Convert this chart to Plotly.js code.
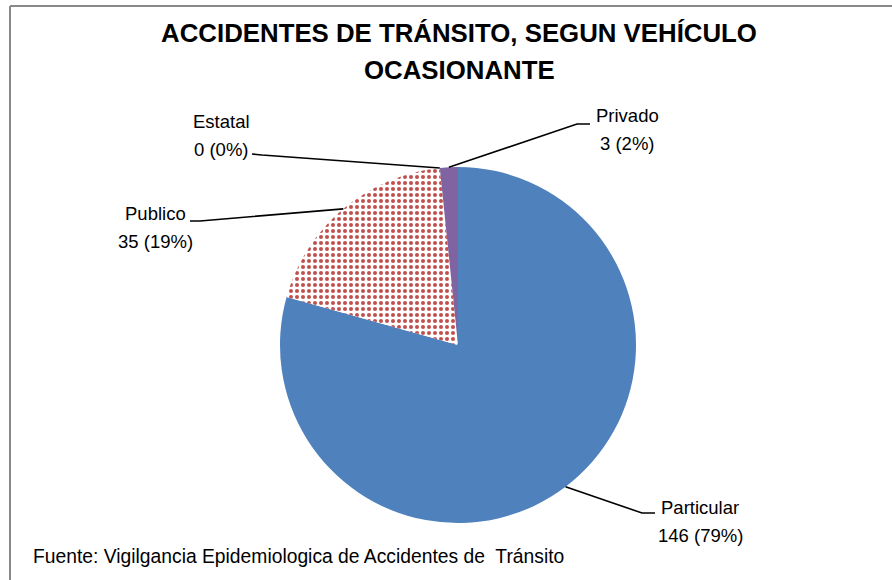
<!DOCTYPE html>
<html>
<head>
<meta charset="utf-8">
<script src="https://cdn.plot.ly/plotly-3.0.1.min.js"></script>
<style>
html,body{margin:0;padding:0;background:#fff;}
#chart{width:892px;height:580px;}
</style>
</head>
<body>
<div id="chart"></div>
<script>
// ---- data ----
const categories = ["Particular", "Publico", "Estatal", "Privado"];
const values = [146, 35, 0, 3];
const sliceColors = ["#4F81BD", "#C0504D", "#C0504D", "#8064A2"];
const titleLines = ["ACCIDENTES DE TRÁNSITO, SEGUN VEHÍCULO", "OCASIONANTE"];
const sourceText = "Fuente: Vigilgancia Epidemiologica de Accidentes de  Tránsito";

// ---- layout geometry (pixels) ----
const W = 892, H = 580;
const cx = 458, cy = 345, R = 178;
// label text centres and leader-line elbows / ends
const labelPos = {
  "Particular": {x: 700, y1: 507, y2: 535, elbow: [642, 513], end: [655, 513]},
  "Publico":    {x: 155, y1: 213, y2: 241, elbow: [200, 221], end: [190, 221]},
  "Estatal":    {x: 221, y1: 122, y2: 149, elbow: [262, 155], end: [252, 154]},
  "Privado":    {x: 627, y1: 115, y2: 143, elbow: [577, 124], end: [590, 124]}
};

const px = x => x / W;
const py = y => 1 - y / H;
const FONT = "Liberation Sans, Arial, sans-serif";

const total = values.reduce((a, b) => a + b, 0);

const trace = {
  type: "pie",
  labels: categories,
  values: values,
  sort: false,
  direction: "clockwise",
  rotation: 0,
  textinfo: "none",
  hoverinfo: "label+value+percent",
  showlegend: false,
  domain: {x: [px(cx - R), px(cx + R)], y: [py(cy + R), py(cy - R)]},
  marker: {
    colors: sliceColors,
    line: {width: 0},
    pattern: {
      shape: ["", ".", ".", ""],
      bgcolor: ["#4F81BD", "#FFFFFF", "#FFFFFF", "#8064A2"],
      fgcolor: sliceColors,
      fgopacity: 1,
      size: 6,
      solidity: 0.36,
      fillmode: "overlay"
    }
  }
};

const annotations = [];
const shapes = [];
let cum = 0;
categories.forEach((cat, i) => {
  const v = values[i];
  const mid = (cum + v / 2) / total * 2 * Math.PI; // clockwise from 12 o'clock
  cum += v;
  const sx = cx + R * Math.sin(mid);
  const sy = cy - R * Math.cos(mid);
  const lp = labelPos[cat];
  const pct = Math.round(v / total * 100);
  annotations.push({
    xref: "paper", yref: "paper", x: px(lp.x), y: py(lp.y1),
    xanchor: "center", yanchor: "middle", showarrow: false,
    text: cat, font: {family: FONT, size: 18.5, color: "#000"}
  });
  annotations.push({
    xref: "paper", yref: "paper", x: px(lp.x), y: py(lp.y2),
    xanchor: "center", yanchor: "middle", showarrow: false,
    text: v + " (" + pct + "%)", font: {family: FONT, size: 18.5, color: "#000"}
  });
  shapes.push({
    type: "path", xref: "paper", yref: "paper",
    path: "M" + px(sx) + "," + py(sy) + " L" + px(lp.elbow[0]) + "," + py(lp.elbow[1]) +
          " L" + px(lp.end[0]) + "," + py(lp.end[1]),
    line: {color: "#000", width: 1.6}
  });
});

annotations.push({
  xref: "paper", yref: "paper", x: px(31), y: py(556),
  xanchor: "left", yanchor: "middle", showarrow: false,
  text: sourceText, font: {family: FONT, size: 19.3, color: "#000"}
});

// second title line
annotations.push({
  xref: "paper", yref: "paper", x: px(459), y: py(70),
  xanchor: "center", yanchor: "middle", showarrow: false,
  text: "<b>" + titleLines[1] + "</b>", font: {family: FONT, size: 25.8, color: "#000"}
});

// chart frame (top and left edges visible)
shapes.push({type: "line", xref: "paper", yref: "paper", x0: px(10), x1: px(W + 5), y0: py(6), y1: py(6), line: {color: "#898989", width: 2}});
shapes.push({type: "line", xref: "paper", yref: "paper", x0: px(10), x1: px(10), y0: py(6), y1: py(H + 5), line: {color: "#898989", width: 2}});

const layout = {
  width: W, height: H,
  margin: {l: 0, r: 0, t: 0, b: 0},
  paper_bgcolor: "#fff",
  plot_bgcolor: "#fff",
  title: {
    text: "<b>" + titleLines[0] + "</b>",
    x: px(459), xanchor: "center",
    y: py(33), yanchor: "middle",
    yref: "paper", xref: "paper",
    font: {family: FONT, size: 25.8, color: "#000"}
  },
  annotations: annotations,
  shapes: shapes
};

Plotly.newPlot("chart", [trace], layout, {displayModeBar: false, staticPlot: true});
</script>
</body>
</html>
